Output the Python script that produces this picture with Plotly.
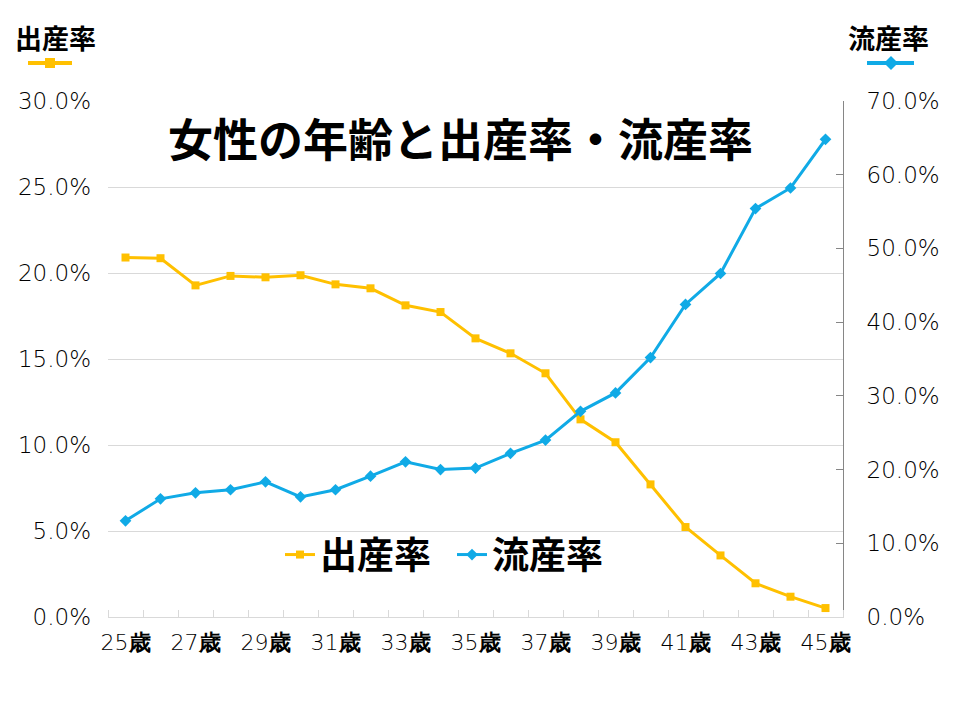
import plotly.graph_objects as go

ages = list(range(25, 46))
birth_rate = [20.9, 20.86, 19.28, 19.83, 19.75, 19.87, 19.34, 19.11, 18.12, 17.73, 16.2,
              15.33, 14.17, 11.49, 10.16, 7.71, 5.23, 3.58, 1.96, 1.18, 0.52]
miscarriage_rate = [13.05, 16.03, 16.85, 17.26, 18.34, 16.3, 17.26, 19.1, 21.05, 20.0, 20.2,
                    22.2, 24.0, 27.9, 30.4, 35.2, 42.4, 46.6, 55.4, 58.2, 64.8]
tick_ages = list(range(25, 46, 2))
tick_labels = [f"{a}<b>歳</b>" for a in tick_ages]

YELLOW = "#FFC000"
BLUE = "#10AAE6"
FONT = "Noto Sans CJK JP"
NUMFONT = "DejaVu Sans"

fig = go.Figure()
fig.add_trace(go.Scatter(
    x=ages, y=[v / 100 for v in birth_rate], name="出産率", mode="lines+markers",
    line=dict(color=YELLOW, width=3), marker=dict(symbol="square", size=8, color=YELLOW),
    yaxis="y"))
fig.add_trace(go.Scatter(
    x=ages, y=[v / 100 for v in miscarriage_rate], name="流産率", mode="lines+markers",
    line=dict(color=BLUE, width=3), marker=dict(symbol="diamond", size=9, color=BLUE),
    yaxis="y2"))

L, R, T, B = 108, 117, 101, 103
W, H = 960, 720
pw, ph = W - L - R, H - T - B


def px(x):
    return (x - L) / pw


def py(y):
    return (H - B - y) / ph


fig.update_layout(
    width=W, height=H,
    margin=dict(l=L, r=R, t=T, b=B),
    paper_bgcolor="white", plot_bgcolor="white",
    font=dict(family=FONT, color="#000"),
    showlegend=True,
    legend=dict(orientation="h", x=px(280), y=py(555), xanchor="left", yanchor="middle",
                font=dict(size=37, color="black", family=FONT, weight="bold"),
                bgcolor="rgba(0,0,0,0)",
                itemwidth=30, entrywidth=127, tracegroupgap=0),
    xaxis=dict(range=[24.5, 45.5], tickvals=tick_ages, ticktext=tick_labels, ticks="",
               showgrid=False, zeroline=False, showline=True, linecolor="#D9D9D9", linewidth=1,
               ticklabelstandoff=6,
               tickfont=dict(size=22, color="#000", family=NUMFONT, weight=300),
               minor=dict(tickvals=[a - 0.5 for a in ages] + [45.5], ticks="inside",
                          ticklen=7, tickcolor="#D9D9D9", showgrid=False)),
    yaxis=dict(range=[0, 0.30], dtick=0.05, tickformat=".1%", showgrid=True, gridcolor="#D9D9D9",
               zeroline=False, showline=False, ticks="", ticklabelstandoff=16,
               tickfont=dict(size=23, color="#000", family=NUMFONT, weight=300)),
    yaxis2=dict(range=[0, 0.70], dtick=0.10, tickformat=".1%", overlaying="y", side="right",
                showgrid=False, zeroline=False, showline=True, linecolor="#868686", linewidth=1,
                ticks="inside", ticklen=7, tickcolor="#868686", ticklabelstandoff=18,
                tickfont=dict(size=23, color="#000", family=NUMFONT, weight=300)),
)

fig.add_annotation(text="<b>女性の年齢と出産率・流産率</b>", xref="paper", yref="paper",
                   x=px(460), y=py(137), xanchor="center", yanchor="middle", showarrow=False,
                   font=dict(size=45, color="black", family=FONT))
fig.add_annotation(text="<b>出産率</b>", xref="paper", yref="paper",
                   x=px(55), y=py(37), xanchor="center", yanchor="middle", showarrow=False,
                   font=dict(size=27, color="black", family=FONT))
fig.add_annotation(text="<b>流産率</b>", xref="paper", yref="paper",
                   x=px(888), y=py(37), xanchor="center", yanchor="middle", showarrow=False,
                   font=dict(size=27, color="black", family=FONT))

# legend-style icons under the axis labels
fig.add_shape(type="line", xref="paper", yref="paper", x0=px(28), x1=px(72), y0=py(63), y1=py(63),
              line=dict(color=YELLOW, width=4))
fig.add_shape(type="rect", xref="paper", yref="paper", x0=px(45), x1=px(55), y0=py(58), y1=py(68),
              fillcolor=YELLOW, line=dict(width=0))
fig.add_shape(type="line", xref="paper", yref="paper", x0=px(867), x1=px(914), y0=py(63), y1=py(63),
              line=dict(color=BLUE, width=4))
cx, cy = 891, 63
fig.add_shape(type="path", xref="paper", yref="paper",
              path=f"M {px(cx-7)},{py(cy)} L {px(cx)},{py(cy-7)} L {px(cx+7)},{py(cy)} L {px(cx)},{py(cy+7)} Z",
              fillcolor=BLUE, line=dict(width=0))

fig.write_html("out.html", config={"displayModeBar": False},
               post_script="document.body.style.margin='0';")
